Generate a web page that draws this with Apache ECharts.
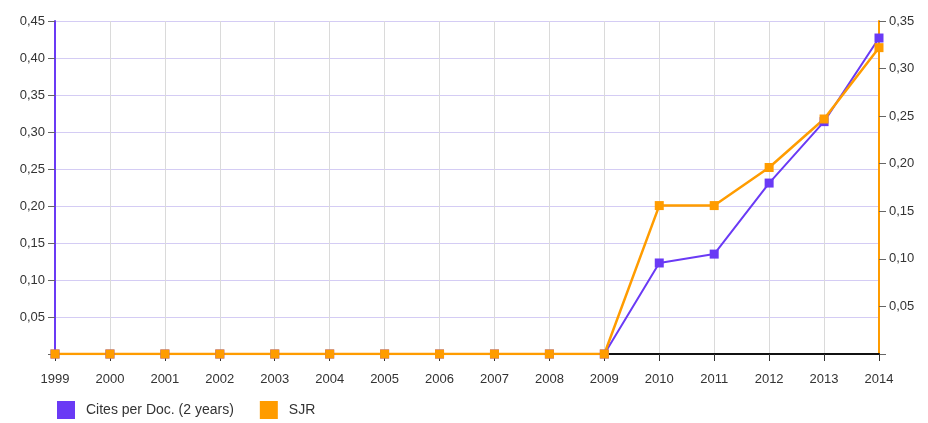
<!DOCTYPE html>
<html><head><meta charset="utf-8">
<script src="https://cdn.jsdelivr.net/npm/echarts@6/dist/echarts.min.js"></script>
<style>html,body{margin:0;padding:0;background:#fff}#c{width:928px;height:423px}</style>
</head><body><div id="c"></div>
<script>
const years = ['1999','2000','2001','2002','2003','2004','2005','2006','2007','2008','2009','2010','2011','2012','2013','2014'];
const citesPerDoc = [0,0,0,0,0,0,0,0,0,0,0,0.123,0.135,0.231,0.314,0.427];
const sjr = [0,0,0,0,0,0,0,0,0,0,0,0.156,0.156,0.196,0.247,0.322];
const seriesNames = ['Cites per Doc. (2 years)','SJR'];
const purple = '#6a3af5', orange = '#ff9c00';
const fmt = v => v === 0 ? '' : v.toFixed(2).replace('.', ',');
const chart = echarts.init(document.getElementById('c'));
chart.setOption({
  animation:false,
  textStyle:{fontFamily:'Arial, "Liberation Sans", sans-serif'},
  grid:{left:55,right:49,top:21,bottom:69,containLabel:false},
  legend:{left:52,top:396,itemWidth:18,itemHeight:18,itemGap:26,icon:'rect',
    textStyle:{fontSize:14,color:'#333',padding:[0,0,0,6]},data:seriesNames},
  xAxis:{type:'category',data:years,boundaryGap:false,
    axisLine:{lineStyle:{color:'#111',width:2}},
    axisTick:{alignWithLabel:true,length:7,lineStyle:{color:'#333'}},
    axisLabel:{color:'#333',fontSize:13,margin:19},
    splitLine:{show:true,lineStyle:{color:'#dadada',width:1}}},
  yAxis:[
    {type:'value',min:0,max:0.45,interval:0.05,position:'left',
     axisLine:{show:true,lineStyle:{color:purple,width:2}},
     axisTick:{show:true,length:7,lineStyle:{color:'#666'}},
     axisLabel:{color:'#333',fontSize:13,formatter:fmt,margin:10},
     splitLine:{show:true,lineStyle:{color:'#d4ccf4',width:1}}},
    {type:'value',min:0,max:0.35,interval:0.05,position:'right',
     axisLine:{show:true,lineStyle:{color:orange,width:2}},
     axisTick:{show:true,length:7,lineStyle:{color:'#666'}},
     axisLabel:{color:'#333',fontSize:13,formatter:fmt,margin:10},
     splitLine:{show:false}}
  ],
  series:[
    {name:seriesNames[0],type:'line',yAxisIndex:0,data:citesPerDoc,
     symbol:'rect',symbolSize:9,color:purple,lineStyle:{width:2,color:purple},
     itemStyle:{color:purple}},
    {name:seriesNames[1],type:'line',yAxisIndex:1,data:sjr,
     symbol:'rect',symbolSize:9,color:orange,lineStyle:{width:2.5,color:orange},
     itemStyle:{color:orange}}
  ]
});
</script></body></html>
